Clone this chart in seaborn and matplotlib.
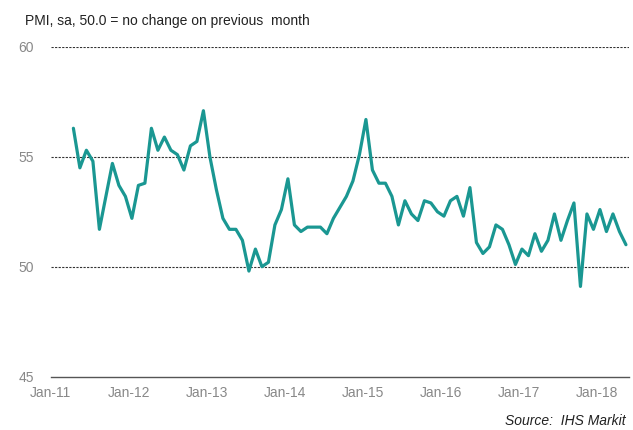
import matplotlib
matplotlib.use("Agg")
import matplotlib.pyplot as plt
import seaborn as sns
import numpy as np
import pandas as pd

# ---- data ----
start_month = "2011-04"
end_month = "2018-05"
pmi = [
    56.3, 54.5, 55.3, 54.8, 51.7, 53.2, 54.7, 53.7, 53.2,
    52.2, 53.7, 53.8, 56.3, 55.3, 55.9, 55.3, 55.1, 54.4, 55.5, 55.7, 57.1,
    55.0, 53.5, 52.2, 51.7, 51.7, 51.2, 49.8, 50.8, 50.0, 50.2, 51.9, 52.6,
    54.0, 51.9, 51.6, 51.8, 51.8, 51.8, 51.5, 52.2, 52.7, 53.2, 53.9, 55.1,
    56.7, 54.4, 53.8, 53.8, 53.2, 51.9, 53.0, 52.4, 52.1, 53.0, 52.9, 52.5,
    52.3, 53.0, 53.2, 52.3, 53.6, 51.1, 50.6, 50.9, 51.9, 51.7, 51.0, 50.1,
    50.8, 50.5, 51.5, 50.7, 51.2, 52.4, 51.2, 52.1, 52.9, 49.1, 52.4, 51.7,
    52.6, 51.6, 52.4, 51.6, 51.0,
]
tick_labels = ["Jan-11", "Jan-12", "Jan-13", "Jan-14", "Jan-15", "Jan-16", "Jan-17", "Jan-18"]
y_ticks = [45, 50, 55, 60]
title_text = "PMI, sa, 50.0 = no change on previous  month"
source_text = "Source:  IHS Markit"

# ---- build frame ----
periods = pd.period_range(start_month, end_month, freq="M")
base = pd.Period("2011-01", freq="M")
month_pos = np.array([(p - base).n for p in periods]) + 0.5
df = pd.DataFrame({"x": month_pos, "pmi": pmi})

sns.set_style("white")
plt.rcParams["font.family"] = ["Liberation Sans", "DejaVu Sans"]

fig = plt.figure(figsize=(6.33, 4.30), dpi=100)
ax = fig.add_axes([0.080, 0.1244, 0.914, 0.7663])

for yv in [50, 55, 60]:
    ax.axhline(yv, color="#333333", linestyle=(0, (2, 1.2)), linewidth=0.8, zorder=1)

sns.lineplot(data=df, x="x", y="pmi", ax=ax, color="#1a9792", linewidth=2.3, zorder=3)

ax.set_xlim(0, 89)
ax.set_ylim(45, 60)
ax.set_xticks([12 * i for i in range(len(tick_labels))])
ax.set_xticklabels(tick_labels)
ax.set_yticks(y_ticks)
ax.set_yticklabels([str(v) for v in y_ticks])
ax.set_xlabel("")
ax.set_ylabel("")

for s in ["left", "right", "top"]:
    ax.spines[s].set_visible(False)
ax.spines["bottom"].set_color("#555555")
ax.spines["bottom"].set_linewidth(1.0)

ax.tick_params(axis="x", colors="#888888", labelsize=10, length=4, direction="inout",
               width=1.0, pad=5)
ax.tick_params(axis="x", color="#555555")
ax.tick_params(axis="y", colors="#888888", labelsize=10, length=0, pad=12)
ax.grid(False)

fig.text(0.040, 0.952, title_text, fontsize=10, color="#222222", ha="left", va="center")
fig.text(0.988, 0.020, source_text, fontsize=10, color="#222222", ha="right", va="center",
         style="italic")

fig.savefig("out.png", dpi=100)
